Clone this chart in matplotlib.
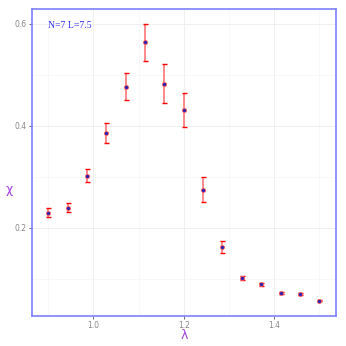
import numpy as np
import matplotlib.pyplot as plt
from matplotlib.ticker import MultipleLocator

# data
lam = [0.9, 0.9429, 0.9857, 1.0286, 1.0714, 1.1143, 1.1571, 1.2,
       1.2429, 1.2857, 1.3286, 1.3714, 1.4143, 1.4571, 1.5]
chi = [0.230, 0.240, 0.3025, 0.386, 0.477, 0.564, 0.483, 0.431,
       0.275, 0.163, 0.102, 0.090, 0.073, 0.071, 0.057]
err = [0.009, 0.009, 0.013, 0.019, 0.026, 0.036, 0.038, 0.033,
       0.024, 0.012, 0.004, 0.003, 0.002, 0.002, 0.001]

fig = plt.figure(figsize=(3.46, 3.46), dpi=100)
ax = fig.add_axes([0.0925, 0.0876, 0.8785, 0.8864])

# light red error stems with bright red caps
ax.errorbar(lam, chi, yerr=err, fmt='none', ecolor='#ff8080', elinewidth=1.3,
            capsize=0, zorder=2)
ax.errorbar(lam, chi, yerr=err, fmt='none', ecolor='red', elinewidth=0,
            capsize=1.8, capthick=1.0, zorder=3)
ax.plot(lam, chi, 'o', color='#ff6060', ms=3.6, mew=0, zorder=3)
ax.plot(lam, chi, 'o', color='#3020b0', ms=2.4, mew=0, zorder=4)

ax.set_xlim(0.864, 1.537)
ax.set_ylim(0.028, 0.629)
ax.xaxis.set_major_locator(MultipleLocator(0.2))
ax.xaxis.set_minor_locator(MultipleLocator(0.1))
ax.yaxis.set_major_locator(MultipleLocator(0.2))
ax.yaxis.set_minor_locator(MultipleLocator(0.1))
ax.grid(which='major', color='#ececec', lw=0.6)
ax.grid(which='minor', color='#f5f5f5', lw=0.5)
ax.set_axisbelow(True)

ax.tick_params(which='major', length=2.5, width=0.6, color='#555555',
               labelsize=5.5, labelcolor='#888888', pad=1.5)
ax.tick_params(which='minor', length=0)
ax.set_xticklabels([f'{t:.1f}' for t in ax.get_xticks()])
ax.set_yticklabels([f'{t:.1f}' for t in ax.get_yticks()])

for s in ax.spines.values():
    s.set_color('#7f7fff')
    s.set_linewidth(1.2)

ax.set_xlabel('λ', color='#a040e0', fontsize=9, labelpad=0)
ax.xaxis.set_label_coords(0.5, -0.045)
ax.set_ylabel('χ', color='#a040e0', fontsize=9, rotation=0, labelpad=6)
ax.yaxis.set_label_coords(-0.075, 0.39)

ax.text(0.052, 0.962, 'N=7 L=7.5', transform=ax.transAxes, ha='left', va='top',
        color='#3030f0', fontsize=7, family='Liberation Serif')

fig.savefig('out.png', dpi=100)
